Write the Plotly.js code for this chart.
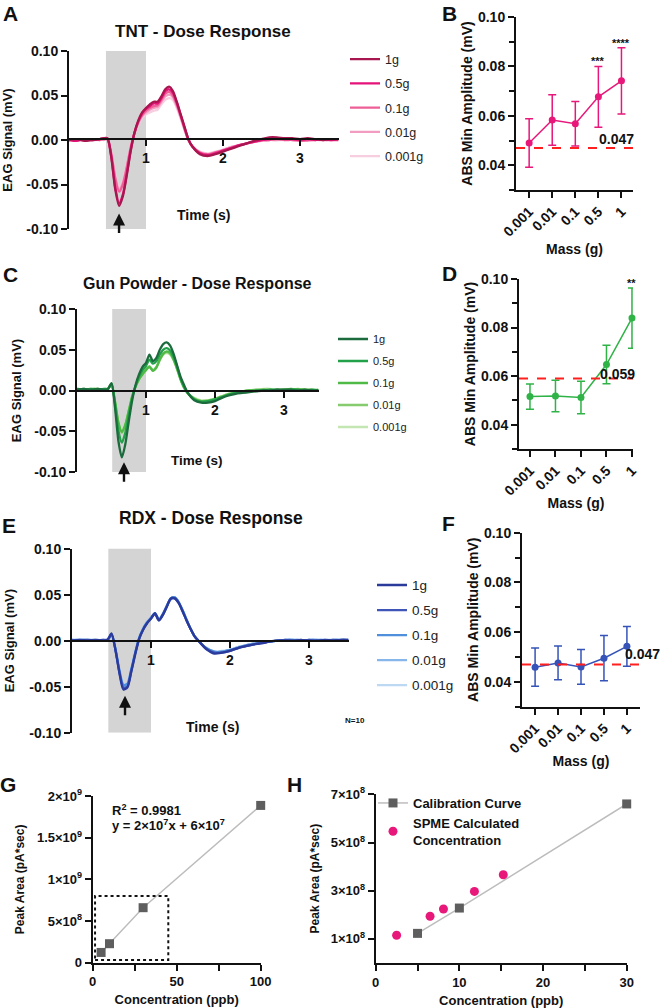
<!DOCTYPE html>
<html>
<head>
<meta charset="utf-8">
<script src="https://cdn.plot.ly/plotly-3.0.1.min.js"></script>
<style>
  html, body { margin: 0; padding: 0; background: #ffffff; }
  #fig { width: 662px; height: 1008px; }
</style>
</head>
<body>
<div id="fig"></div>
<script>
// ---- EAG time base (s) shared by the dose-response traces ----
const TIME = [0, 0.1, 0.2, 0.3, 0.4, 0.45, 0.5, 0.55, 0.6, 0.65, 0.7, 0.75, 0.8, 0.85, 0.9, 0.95,
  1.0, 1.05, 1.1, 1.15, 1.2, 1.25, 1.3, 1.35, 1.4, 1.45, 1.5, 1.55, 1.6, 1.7, 1.8, 1.9,
  2.0, 2.1, 2.2, 2.3, 2.4, 2.5, 2.6, 2.7, 2.8, 2.9, 3.0, 3.1, 3.2, 3.3, 3.4, 3.5];

const DOSES = ['1g', '0.5g', '0.1g', '0.01g', '0.001g'];

// ---- TNT EAG signal (mV) ----
const tnt_1g = [0.000, 0.001, -0.001, 0.000, 0.001, 0.002, 0.002, -0.020, -0.055, -0.074,
  -0.063, -0.040, -0.013, 0.008, 0.022, 0.031, 0.036, 0.040, 0.043, 0.043,
  0.049, 0.057, 0.060, 0.055, 0.043, 0.029, 0.015, 0.001, -0.007, -0.016,
  -0.018, -0.016, -0.013, -0.010, -0.007, -0.004, -0.001, 0.001, 0.003, 0.003,
  0.002, 0.002, 0.001, 0.002, 0.001, 0.000, 0.001, 0.001];
const tnt_05g = [0.000, -0.001, 0.001, 0.000, 0.001, 0.002, 0.001, -0.019, -0.053, -0.071,
  -0.061, -0.038, -0.012, 0.008, 0.021, 0.030, 0.035, 0.038, 0.041, 0.041,
  0.047, 0.055, 0.057, 0.053, 0.042, 0.028, 0.014, 0.001, -0.007, -0.015,
  -0.017, -0.015, -0.012, -0.009, -0.006, -0.004, -0.002, 0.000, 0.001, 0.002,
  0.001, 0.001, 0.000, 0.001, 0.000, 0.001, 0.000, 0.001];
const tnt_01g = [0.001, 0.000, 0.000, 0.001, 0.000, 0.001, 0.001, -0.016, -0.043, -0.058,
  -0.050, -0.031, -0.009, 0.008, 0.020, 0.028, 0.033, 0.036, 0.038, 0.039,
  0.045, 0.052, 0.054, 0.050, 0.040, 0.027, 0.013, 0.000, -0.007, -0.014,
  -0.016, -0.014, -0.012, -0.009, -0.006, -0.004, -0.002, 0.000, 0.000, 0.001,
  0.000, 0.000, -0.001, 0.000, 0.001, 0.000, 0.000, 0.000];
const tnt_001g = [0.000, 0.001, 0.000, 0.000, 0.001, 0.000, 0.001, -0.015, -0.041, -0.056,
  -0.048, -0.030, -0.009, 0.007, 0.019, 0.027, 0.031, 0.034, 0.036, 0.037,
  0.043, 0.049, 0.051, 0.048, 0.038, 0.026, 0.012, 0.000, -0.007, -0.014,
  -0.016, -0.014, -0.011, -0.008, -0.006, -0.004, -0.002, -0.001, 0.000, 0.000,
  0.001, 0.000, 0.000, -0.001, 0.000, 0.000, 0.001, 0.000];
const tnt_0001g = [0.000, 0.000, 0.001, 0.000, 0.000, 0.001, 0.001, -0.014, -0.039, -0.053,
  -0.046, -0.029, -0.009, 0.006, 0.017, 0.025, 0.029, 0.031, 0.033, 0.034,
  0.040, 0.045, 0.047, 0.045, 0.036, 0.024, 0.011, 0.000, -0.007, -0.013,
  -0.015, -0.013, -0.011, -0.008, -0.006, -0.004, -0.002, -0.001, 0.000, 0.000,
  0.000, 0.001, 0.000, 0.000, 0.000, 0.001, 0.000, 0.000];

// ---- Gun powder EAG signal (mV) ----
const gp_1g = [0.001, 0.002, 0.001, 0.002, 0.001, 0.002, 0.009, -0.020, -0.062, -0.082,
  -0.066, -0.038, -0.012, 0.007, 0.020, 0.029, 0.034, 0.044, 0.036, 0.040,
  0.050, 0.057, 0.059, 0.055, 0.045, 0.031, 0.017, 0.007, -0.002, -0.012,
  -0.015, -0.015, -0.013, -0.009, -0.006, -0.004, -0.003, -0.002, -0.001, 0.000,
  0.000, 0.001, 0.001, 0.001, 0.000, 0.001, 0.000, 0.000];
const gp_05g = [0.002, 0.001, 0.002, 0.001, 0.002, 0.002, 0.008, -0.016, -0.049, -0.064,
  -0.052, -0.030, -0.009, 0.006, 0.017, 0.025, 0.030, 0.038, 0.033, 0.036,
  0.044, 0.050, 0.052, 0.049, 0.041, 0.029, 0.015, 0.005, -0.002, -0.011,
  -0.014, -0.013, -0.011, -0.008, -0.005, -0.003, -0.002, -0.001, 0.000, 0.000,
  0.001, 0.001, 0.000, 0.001, 0.001, 0.000, 0.001, 0.000];
const gp_01g = [0.001, 0.002, 0.001, 0.002, 0.001, 0.002, 0.008, -0.013, -0.039, -0.051,
  -0.042, -0.025, -0.007, 0.005, 0.014, 0.020, 0.025, 0.029, 0.024, 0.028,
  0.038, 0.045, 0.048, 0.046, 0.038, 0.027, 0.014, 0.004, -0.003, -0.010,
  -0.013, -0.013, -0.011, -0.008, -0.005, -0.003, -0.001, 0.000, 0.000, 0.001,
  0.001, 0.000, 0.001, 0.002, 0.001, 0.001, 0.000, 0.001];
const gp_001g = [0.002, 0.001, 0.002, 0.002, 0.001, 0.002, 0.008, -0.013, -0.040, -0.052,
  -0.043, -0.025, -0.007, 0.005, 0.014, 0.021, 0.026, 0.030, 0.025, 0.029,
  0.038, 0.045, 0.047, 0.045, 0.038, 0.027, 0.014, 0.004, -0.003, -0.010,
  -0.013, -0.012, -0.010, -0.007, -0.004, -0.002, -0.001, 0.000, 0.001, 0.001,
  0.000, 0.001, 0.001, 0.001, 0.002, 0.001, 0.001, 0.000];
const gp_0001g = [0.001, 0.002, 0.001, 0.001, 0.002, 0.002, 0.007, -0.012, -0.038, -0.050,
  -0.041, -0.024, -0.007, 0.005, 0.014, 0.020, 0.025, 0.029, 0.025, 0.028,
  0.037, 0.044, 0.046, 0.044, 0.037, 0.026, 0.013, 0.003, -0.003, -0.009,
  -0.012, -0.012, -0.010, -0.007, -0.004, -0.002, -0.001, 0.000, 0.001, 0.002,
  0.002, 0.001, 0.001, 0.002, 0.001, 0.001, 0.001, 0.000];

// ---- RDX EAG signal (mV) ----
const rdx_1g = [0.000, 0.001, 0.000, 0.001, 0.000, 0.001, 0.008, -0.010, -0.035, -0.053,
  -0.051, -0.034, -0.015, 0.002, 0.012, 0.019, 0.024, 0.030, 0.022, 0.028,
  0.037, 0.046, 0.046, 0.041, 0.032, 0.022, 0.013, 0.005, 0.000, -0.009,
  -0.014, -0.013, -0.011, -0.008, -0.006, -0.004, -0.003, -0.001, 0.000, 0.000,
  0.000, 0.001, 0.000, 0.000, 0.001, 0.000, 0.001, 0.001];
const rdx_05g = [0.001, 0.000, 0.001, 0.000, 0.001, 0.001, 0.007, -0.010, -0.034, -0.051,
  -0.050, -0.033, -0.014, 0.002, 0.012, 0.019, 0.024, 0.029, 0.022, 0.028,
  0.037, 0.045, 0.046, 0.041, 0.032, 0.022, 0.013, 0.005, 0.000, -0.009,
  -0.013, -0.013, -0.011, -0.008, -0.006, -0.004, -0.002, -0.001, 0.000, 0.001,
  0.000, 0.000, 0.001, 0.000, 0.000, 0.001, 0.000, 0.001];
const rdx_01g = [0.000, 0.001, 0.001, 0.000, 0.001, 0.000, 0.007, -0.009, -0.032, -0.048,
  -0.047, -0.031, -0.013, 0.003, 0.013, 0.020, 0.025, 0.030, 0.023, 0.029,
  0.038, 0.046, 0.047, 0.042, 0.033, 0.023, 0.013, 0.005, 0.000, -0.008,
  -0.012, -0.012, -0.010, -0.008, -0.005, -0.004, -0.002, -0.001, 0.000, 0.001,
  0.001, 0.000, 0.001, 0.001, 0.000, 0.001, 0.001, 0.000];
const rdx_001g = [0.001, 0.001, 0.000, 0.001, 0.000, 0.001, 0.007, -0.009, -0.033, -0.049,
  -0.048, -0.032, -0.013, 0.003, 0.013, 0.020, 0.025, 0.030, 0.023, 0.029,
  0.038, 0.046, 0.047, 0.042, 0.033, 0.023, 0.013, 0.005, 0.000, -0.008,
  -0.012, -0.012, -0.010, -0.007, -0.005, -0.003, -0.002, -0.001, 0.000, 0.000,
  0.001, 0.001, 0.000, 0.001, 0.001, 0.000, 0.001, 0.001];
const rdx_0001g = [0.000, 0.000, 0.001, 0.001, 0.000, 0.001, 0.006, -0.009, -0.032, -0.047,
  -0.046, -0.031, -0.013, 0.003, 0.013, 0.020, 0.025, 0.029, 0.023, 0.029,
  0.038, 0.046, 0.047, 0.042, 0.033, 0.023, 0.013, 0.005, 0.000, -0.008,
  -0.012, -0.011, -0.010, -0.007, -0.005, -0.003, -0.002, -0.001, 0.000, 0.001,
  0.001, 0.000, 0.001, 0.000, 0.001, 0.001, 0.000, 0.001];

// ---- Minimum amplitude vs. mass (mean ± error) ----
const MASS = ['0.001', '0.01', '0.1', '0.5', '1'];
const tntMinAmp = [0.0490, 0.0583, 0.0568, 0.0677, 0.0742];
const tntErr    = [0.0098, 0.0102, 0.0090, 0.0123, 0.0134];
const gpMinAmp  = [0.0516, 0.0518, 0.0512, 0.0648, 0.0839];
const gpErr     = [0.0052, 0.0065, 0.0067, 0.0079, 0.0124];
const rdxMinAmp = [0.0459, 0.0476, 0.0460, 0.0495, 0.0543];
const rdxErr    = [0.0077, 0.0068, 0.0070, 0.0091, 0.0080];
const THRESH = {tnt: 0.047, gp: 0.059, rdx: 0.047};
// significance marks: [category index, label]
const tntStars = [[3, '***'], [4, '****']];
const gpStars  = [[4, '**']];

// ---- GC calibration and SPME results ----
const calConc = [5, 10, 30, 100];
const calArea = [1.23e8, 2.28e8, 6.60e8, 1.887e9];
const spmeConc = [2.5, 6.5, 8.1, 11.8, 15.25];
const spmeArea = [1.15e8, 1.94e8, 2.24e8, 2.97e8, 3.66e8];

// ---- colours ----
const PINKS  = ['#a8164f', '#e5127a', '#ee5f98', '#f39cc2', '#f7cde0'];
const GREENS = ['#1b6b3c', '#22a04a', '#4fba45', '#86cc6e', '#c4e6b3'];
const BLUES  = ['#2a3b9c', '#3f55b8', '#4f8fdc', '#86b6ea', '#bdd8f2'];
const PINK = '#e8177a', GREEN = '#2fb347', BLUE = '#3553b8';

const W = 662, H = 1008;
const px = v => v / W;
const py = v => 1 - v / H;
const FONT = 'Liberation Sans, Arial, Helvetica, sans-serif';
const bold = (size) => ({family: FONT, size: size, color: '#111', weight: 'bold'});

const traces = [];

function addDoseSeries(series, colors, xa, ya, legendId) {
  // lightest dose drawn first so the strongest response sits on top
  for (let i = series.length - 1; i >= 0; i--) {
    traces.push({
      type: 'scatter', mode: 'lines', x: TIME, y: series[i],
      name: DOSES[i], xaxis: xa, yaxis: ya,
      line: {color: colors[i], width: 2.3, shape: 'spline', smoothing: 0.7},
      legend: legendId, legendgroup: legendId + i, legendrank: i + 1
    });
  }
}
addDoseSeries([tnt_1g, tnt_05g, tnt_01g, tnt_001g, tnt_0001g], PINKS, 'x', 'y', 'legend');
addDoseSeries([gp_1g, gp_05g, gp_01g, gp_001g, gp_0001g], GREENS, 'x3', 'y3', 'legend2');
addDoseSeries([rdx_1g, rdx_05g, rdx_01g, rdx_001g, rdx_0001g], BLUES, 'x5', 'y5', 'legend3');

function addMassSeries(vals, errs, color, xa, ya) {
  traces.push({
    type: 'scatter', mode: 'lines+markers', x: MASS, y: vals, xaxis: xa, yaxis: ya,
    showlegend: false, cliponaxis: false,
    line: {color: color, width: 1.5},
    marker: {color: color, size: 7},
    error_y: {type: 'data', array: errs, visible: true, color: color, thickness: 1.5, width: 4}
  });
}
addMassSeries(tntMinAmp, tntErr, PINK, 'x2', 'y2');
addMassSeries(gpMinAmp, gpErr, GREEN, 'x4', 'y4');
addMassSeries(rdxMinAmp, rdxErr, BLUE, 'x6', 'y6');

// calibration curve, full range
traces.push({
  type: 'scatter', mode: 'lines+markers', x: calConc, y: calArea, xaxis: 'x7', yaxis: 'y7',
  showlegend: false, cliponaxis: false,
  line: {color: '#bdbdbd', width: 1.5},
  marker: {symbol: 'square', size: 9, color: '#5e5e5e'}
});
// calibration curve, low range with SPME results
traces.push({
  type: 'scatter', mode: 'lines+markers', x: calConc, y: calArea, xaxis: 'x8', yaxis: 'y8',
  name: 'Calibration Curve', legend: 'legend4', cliponaxis: false,
  line: {color: '#bdbdbd', width: 1.5},
  marker: {symbol: 'square', size: 9, color: '#5e5e5e'}
});
traces.push({
  type: 'scatter', mode: 'markers', x: spmeConc, y: spmeArea, xaxis: 'x8', yaxis: 'y8',
  name: 'SPME Calculated<br>Concentration', legend: 'legend4', cliponaxis: false,
  marker: {symbol: 'circle', size: 9, color: PINK}
});

// ---- axes ----
const baseAxis = {
  showline: true, linecolor: '#111', linewidth: 2, mirror: false,
  ticks: 'outside', ticklen: 6, tickwidth: 2, tickcolor: '#111',
  showgrid: false, zeroline: false, fixedrange: true,
  tickfont: bold(14)
};
const ax = (o) => Object.assign({}, baseAxis, o);

const eagY = (dom, xa, standoff) => ax({
  domain: dom, anchor: xa, range: [-0.1, 0.1],
  tickvals: [-0.1, -0.05, 0, 0.05, 0.1],
  ticktext: ['-0.10', '-0.05', '0.00', '0.05', '0.10'],
  title: {text: 'EAG Signal (mV)', font: bold(13), standoff: standoff}
});
const eagX = (dom, zeroPos) => ax({
  domain: dom, anchor: 'free', position: zeroPos, range: [0, 3.5],
  tickvals: [1, 2, 3], ticktext: ['1', '2', '3']
});
const massX = (dom, ya, range, standoff) => ax({
  domain: dom, anchor: ya, type: 'category', range: range, tickangle: -45,
  title: {text: 'Mass (g)', font: bold(14), standoff: standoff}
});
const ampY = (dom, xa) => ax({
  domain: dom, anchor: xa, range: [0.03, 0.10], tick0: 0.04, dtick: 0.02, tickformat: '.2f',
  minor: {dtick: 0.01, ticks: 'outside', ticklen: 5, tickwidth: 2, tickcolor: '#111'},
  title: {text: 'ABS Min Amplitude (mV)', font: bold(14), standoff: 2}
});

const layout = {
  width: W, height: H,
  margin: {l: 0, r: 0, t: 0, b: 0},
  paper_bgcolor: '#ffffff', plot_bgcolor: 'rgba(0,0,0,0)',
  font: {family: FONT, color: '#111'},
  showlegend: true,

  xaxis:  eagX([px(69), px(338.5)], py(139)),
  yaxis:  eagY([py(229), py(51)], 'x', 14),
  xaxis2: massX([px(516), px(633)], 'y2', [-0.57, 4.5], 6),
  yaxis2: ampY([py(190), py(17)], 'x2'),

  xaxis3: eagX([px(77), px(318.5)], py(391)),
  yaxis3: eagY([py(472), py(309)], 'x3', 10),
  xaxis4: massX([px(519), px(633)], 'y4', [-0.43, 4.04], 1),
  yaxis4: ampY([py(449), py(279)], 'x4'),

  xaxis5: eagX([px(72), px(348.5)], py(640.7)),
  yaxis5: eagY([py(732.7), py(548.7)], 'x5', 12),
  xaxis6: massX([px(522), px(640)], 'y6', [-0.57, 4.57], 1),
  yaxis6: ampY([py(706.7), py(532.7)], 'x6'),

  xaxis7: ax({
    domain: [px(92.7), px(260.7)], anchor: 'y7', range: [0, 100],
    tickvals: [0, 50, 100], tickfont: bold(13),
    minor: {tickvals: [25, 75], ticks: 'outside', ticklen: 6, tickwidth: 2, tickcolor: '#111'},
    title: {text: 'Concentration (ppb)', font: bold(13), standoff: 7}
  }),
  yaxis7: ax({
    domain: [py(962.7), py(796)], anchor: 'x7', range: [0, 2e9],
    tickvals: [0, 5e8, 1e9, 1.5e9, 2e9],
    ticktext: ['0', '5×10<sup>8</sup>', '1×10<sup>9</sup>', '1.5×10<sup>9</sup>', '2×10<sup>9</sup>'],
    tickfont: bold(13),
    title: {text: 'Peak Area (pA*sec)', font: bold(12), standoff: 10}
  }),
  xaxis8: ax({
    domain: [px(375.7), px(626.7)], anchor: 'y8', range: [0, 30],
    tickvals: [0, 10, 20, 30], tickfont: bold(13),
    minor: {tickvals: [5, 15, 25], ticks: 'outside', ticklen: 6, tickwidth: 2, tickcolor: '#111'},
    title: {text: 'Concentration (ppb)', font: bold(13), standoff: 7}
  }),
  yaxis8: ax({
    domain: [py(963), py(794.3)], anchor: 'x8', range: [0, 7e8],
    tickvals: [1e8, 3e8, 5e8, 7e8],
    ticktext: ['1×10<sup>8</sup>', '3×10<sup>8</sup>', '5×10<sup>8</sup>', '7×10<sup>8</sup>'],
    tickfont: bold(13),
    title: {text: 'Peak Area (pA*sec)', font: bold(12), standoff: 9}
  }),

  legend: {
    x: px(345), y: py(44.5), xanchor: 'left', yanchor: 'top',
    bgcolor: 'rgba(0,0,0,0)', borderwidth: 0, tracegroupgap: 5,
    font: {family: FONT, size: 12.5, color: '#222'}
  },
  legend2: {
    x: px(333), y: py(324.5), xanchor: 'left', yanchor: 'top',
    bgcolor: 'rgba(0,0,0,0)', borderwidth: 0, tracegroupgap: 3,
    font: {family: FONT, size: 11, color: '#222'}
  },
  legend3: {
    x: px(372), y: py(569.7), xanchor: 'left', yanchor: 'top',
    bgcolor: 'rgba(0,0,0,0)', borderwidth: 0, tracegroupgap: 4.5,
    font: {family: FONT, size: 13.5, color: '#222'}
  },
  legend4: {
    x: px(373), y: py(788), xanchor: 'left', yanchor: 'top',
    bgcolor: 'rgba(0,0,0,0)', borderwidth: 0, tracegroupgap: 0,
    font: bold(13)
  },

  shapes: [
    // stimulus windows
    {type: 'rect', xref: 'x', yref: 'y', x0: 0.48, x1: 1.0, y0: -0.1, y1: 0.102,
     fillcolor: '#d4d4d4', line: {width: 0}, layer: 'below'},
    {type: 'rect', xref: 'x3', yref: 'y3', x0: 0.51, x1: 1.0, y0: -0.1, y1: 0.102,
     fillcolor: '#d4d4d4', line: {width: 0}, layer: 'below'},
    {type: 'rect', xref: 'x5', yref: 'y5', x0: 0.46, x1: 1.0, y0: -0.1, y1: 0.103,
     fillcolor: '#d4d4d4', line: {width: 0}, layer: 'below'},
    // detection thresholds
    {type: 'line', xref: 'x2 domain', yref: 'y2', x0: 0, x1: 1, y0: THRESH.tnt, y1: THRESH.tnt,
     line: {color: '#ff1f1f', width: 2, dash: 'dash'}},
    {type: 'line', xref: 'x4 domain', yref: 'y4', x0: 0, x1: 1, y0: THRESH.gp, y1: THRESH.gp,
     line: {color: '#ff1f1f', width: 2, dash: 'dash'}},
    {type: 'line', xref: 'x6 domain', yref: 'y6', x0: 0, x1: 1, y0: THRESH.rdx, y1: THRESH.rdx,
     line: {color: '#ff1f1f', width: 2, dash: 'dash'}},
    // zoomed region of the calibration curve
    {type: 'rect', xref: 'x7', yref: 'y7', x0: 1.4, x1: 45, y0: 3.2e7, y1: 8.0e8,
     line: {color: '#111', width: 2, dash: 'dot'}, fillcolor: 'rgba(0,0,0,0)'}
  ],

  annotations: []
};

const A = layout.annotations;
function note(text, x, y, font, extra) {
  A.push(Object.assign({text: text, x: px(x), y: py(y), xref: 'paper', yref: 'paper',
    showarrow: false, font: font, xanchor: 'center', yanchor: 'middle'}, extra || {}));
}
// panel letters
[['A', 10, 14], ['B', 449, 14], ['C', 10, 275], ['D', 449, 274], ['E', 9, 525],
 ['F', 448, 523], ['G', 8, 784], ['H', 294, 784]].forEach(p => note(p[0], p[1], p[2], bold(21)));
// panel titles
note('TNT - Dose Response', 203, 31, bold(17));
note('Gun Powder - Dose Response', 197.5, 283.5, bold(16));
note('RDX - Dose Response', 210.5, 518, bold(17.5));
note('Time (s)', 203, 215, bold(14));
note('Time (s)', 197, 461, bold(13.5));
note('Time (s)', 212, 727, bold(14));
note('N=10', 355, 720, bold(8));
// threshold values
note(THRESH.tnt.toFixed(3), 636, 139, bold(14), {xanchor: 'right'});
note(THRESH.gp.toFixed(3), 637, 374, bold(14), {xanchor: 'right'});
note(THRESH.rdx.toFixed(3), 662, 654, bold(14), {xanchor: 'right'});
// regression
note('R<sup>2</sup> = 0.9981', 110, 810, bold(13), {xanchor: 'left'});
note('y = 2×10<sup>7</sup>x + 6×10<sup>7</sup>', 110, 825, bold(13), {xanchor: 'left'});

// significance marks above the error bars
function stars(list, vals, errs, xa, ya) {
  list.forEach(s => {
    A.push({text: s[1], x: s[0], y: vals[s[0]] + errs[s[0]], xref: xa, yref: ya,
      showarrow: false, font: bold(11), yanchor: 'bottom', yshift: -3});
  });
}
stars(tntStars, tntMinAmp, tntErr, 'x2', 'y2');
stars(gpStars, gpMinAmp, gpErr, 'x4', 'y4');

// response markers under the traces
[['x', 'y', 0.65, -0.0826], ['x3', 'y3', 0.681, -0.088], ['x5', 'y5', 0.671, -0.0598]].forEach(a => {
  A.push({text: '', xref: a[0], yref: a[1], x: a[2], y: a[3], showarrow: true,
    ax: 0, ay: 21, arrowhead: 2, arrowsize: 1, arrowwidth: 2.4, arrowcolor: '#111', standoff: 0});
});

Plotly.newPlot('fig', traces, layout, {staticPlot: true, displayModeBar: false});
</script>
</body>
</html>
